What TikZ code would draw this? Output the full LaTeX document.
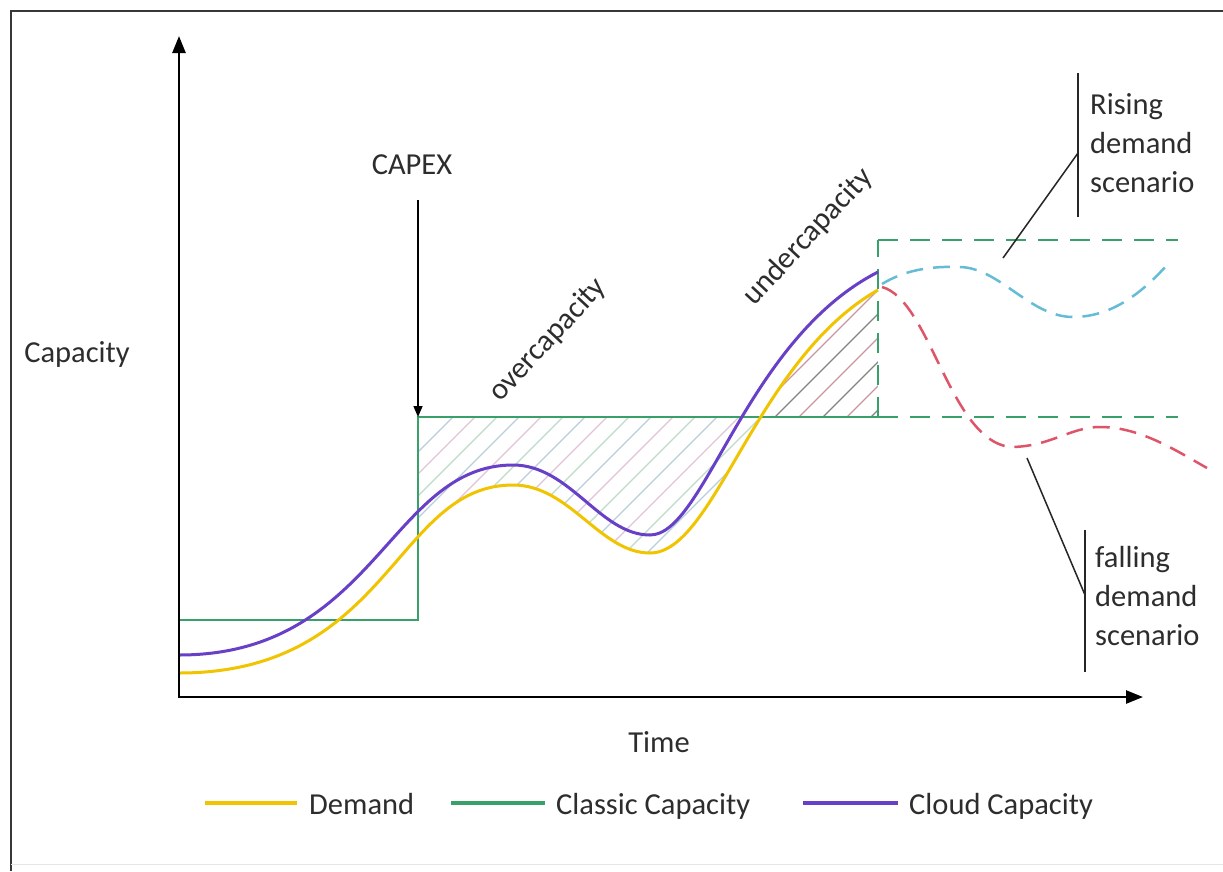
\documentclass[tikz,border=0pt]{standalone}
\usepackage{fontspec}
\setmainfont{Carlito}
\usetikzlibrary{arrows.meta}
\definecolor{demandc}{RGB}{240,196,0}
\definecolor{classicc}{RGB}{56,160,104}
\definecolor{cloudc}{RGB}{104,64,200}
\definecolor{risec}{RGB}{100,188,215}
\definecolor{fallc}{RGB}{222,84,104}
\definecolor{framec}{RGB}{55,55,55}
\definecolor{txtc}{RGB}{45,45,45}
\definecolor{hatchA}{RGB}{185,205,220}
\definecolor{hatchB}{RGB}{225,195,215}
\definecolor{hatchC}{RGB}{190,220,200}
\definecolor{hatchD}{RGB}{135,130,130}
\definecolor{hatchE}{RGB}{200,150,160}
\begin{document}
\begin{tikzpicture}[x=1pt,y=-1pt,
  lbl/.style={font=\fontsize{30.5}{39}\selectfont, text=txtc, inner sep=0pt},
  axisline/.style={line width=2.5pt, black,
     {Triangle[length=17pt,width=13pt]}-{Triangle[length=17pt,width=13pt]}},
  demandline/.style={demandc, line width=3pt},
  cloudline/.style={cloudc, line width=3pt},
  classicline/.style={classicc, line width=2pt},
  classicdash/.style={classicc, line width=2pt, dash pattern=on 20pt off 12pt},
  risedash/.style={risec, line width=2.5pt, dash pattern=on 17pt off 10pt},
  falldash/.style={fallc, line width=2.5pt, dash pattern=on 17pt off 10pt},
  hatchline/.style={line width=1.1pt},
  barline/.style={black!85, line width=2pt},
  pointer/.style={black!85, line width=1.5pt},
  legendline/.style={line width=4pt}
]
\useasboundingbox (0,0) rectangle (1223,871);
\fill[white] (0,0) rectangle (1223,871);
% frame
\draw[framec, line width=2pt] (11,871) -- (11,11) -- (1223,11);
\draw[black!10, line width=1pt] (11,864) -- (1223,864);

% hatching
\begin{scope}
  \clip (179,673) .. controls (390,673) and (395,485) .. (513,485)
        .. controls (570,485) and (600,553) .. (650,553)
        .. controls (715,553) and (755,360) .. (878,290)
        -- (878,417) -- (179,417) -- cycle;
  \begin{scope}
    \clip (418,380) rectangle (757,600);
    \foreach \k in {0,...,45} {
      \pgfmathtruncatemacro{\m}{mod(\k,3)}
      \ifcase\m \def\hc{hatchA}\or \def\hc{hatchB}\or \def\hc{hatchC}\fi
      \draw[hatchline, \hc] (250+\k*22,620) -- ++(300,-300);
    }
  \end{scope}
  \begin{scope}
    \clip (757,250) rectangle (878,417);
    \foreach \k in {0,...,30} {
      \pgfmathtruncatemacro{\m}{mod(\k,2)}
      \ifcase\m \def\hc{hatchD}\or \def\hc{hatchE}\fi
      \draw[hatchline, \hc] (560+\k*24,440) -- ++(300,-300);
    }
  \end{scope}
\end{scope}

% classic capacity
\coordinate (c0) at (179,620);
\coordinate (c1) at (418,620);
\coordinate (c2) at (418,417);
\coordinate (c3) at (878,417);
\coordinate (c4) at (878,240);
\coordinate (c5) at (1178,240);
\coordinate (c6) at (1178,417);
\draw[classicline] (c0) -- (c1) -- (c2) -- (c3);
\draw[classicdash] (c3) -- (c4);
\draw[classicdash] (c4) -- (c5);
\draw[classicdash] (c3) -- (c6);

% demand and cloud
\draw[demandline] (179,673) .. controls (390,673) and (395,485) .. (513,485)
        .. controls (570,485) and (600,553) .. (650,553)
        .. controls (715,553) and (755,360) .. (878,290);
\draw[cloudline] (179,655) .. controls (375,655) and (390,465) .. (513,465)
        .. controls (570,465) and (600,535) .. (650,535)
        .. controls (705,535) and (745,340) .. (878,272);

% scenarios
\coordinate (risept) at (1003,258);
\draw[risedash] (882,284) .. controls (905,270) and (930,266) .. (960,267)
        .. controls (1000,268) and (1030,317) .. (1073,317)
        .. controls (1110,317) and (1140,295) .. (1167,265);
\coordinate (fallpt) at (1027,458);
\draw[falldash] (882,287) .. controls (930,300) and (950,440) .. (1010,447)
        .. controls (1050,447) and (1070,427) .. (1100,427)
        .. controls (1140,427) and (1175,450) .. (1207,468);

% axes
\coordinate (ytip) at (179,36);
\coordinate (O) at (179,697);
\coordinate (xtip) at (1143,697);
\draw[axisline] (ytip) -- (O) -- (xtip);

% CAPEX
\node[lbl, anchor=base] (capex) at (412,174) {CAPEX};
\coordinate (capexfrom) at (418,200);
\draw[black, line width=1.5pt, -{Triangle[length=11pt,width=9pt]}] (capexfrom) -- (c2);

% rotated labels
\node[lbl, rotate=47] (over) at (548,340) {overcapacity};
\node[lbl, rotate=47] (under) at (808,237) {undercapacity};

% axis labels
\node[lbl, anchor=base] (cap) at (77,362) {Capacity};
\node[lbl, anchor=base] (time) at (659,752) {Time};

% scenario labels
\coordinate (rb1) at (1078,73);
\coordinate (rb2) at (1078,217);
\coordinate (rbm) at (1078,153);
\draw[barline] (rb1) -- (rb2);
\draw[pointer] (rbm) -- (risept);
\node[lbl, anchor=north west, align=left] (rise) at (1090,93) {Rising\\demand\\scenario};

\coordinate (fb1) at (1085,530);
\coordinate (fb2) at (1085,672);
\coordinate (fbm) at (1085,595);
\draw[barline] (fb1) -- (fb2);
\draw[pointer] (fbm) -- (fallpt);
\node[lbl, anchor=north west, align=left] (fall) at (1095,546) {falling\\demand\\scenario};

% legend
\coordinate (l1a) at (205,803); \coordinate (l1b) at (297,803);
\coordinate (l2a) at (451,803); \coordinate (l2b) at (545,803);
\coordinate (l3a) at (803,803); \coordinate (l3b) at (898,803);
\draw[legendline, demandc] (l1a) -- (l1b);
\draw[legendline, classicc] (l2a) -- (l2b);
\draw[legendline, cloudc] (l3a) -- (l3b);
\node[lbl, anchor=base west] (legd) at (309,814) {Demand};
\node[lbl, anchor=base west] (legc) at (556,814) {Classic Capacity};
\node[lbl, anchor=base west] (legu) at (909,814) {Cloud Capacity};
\end{tikzpicture}
\end{document}
